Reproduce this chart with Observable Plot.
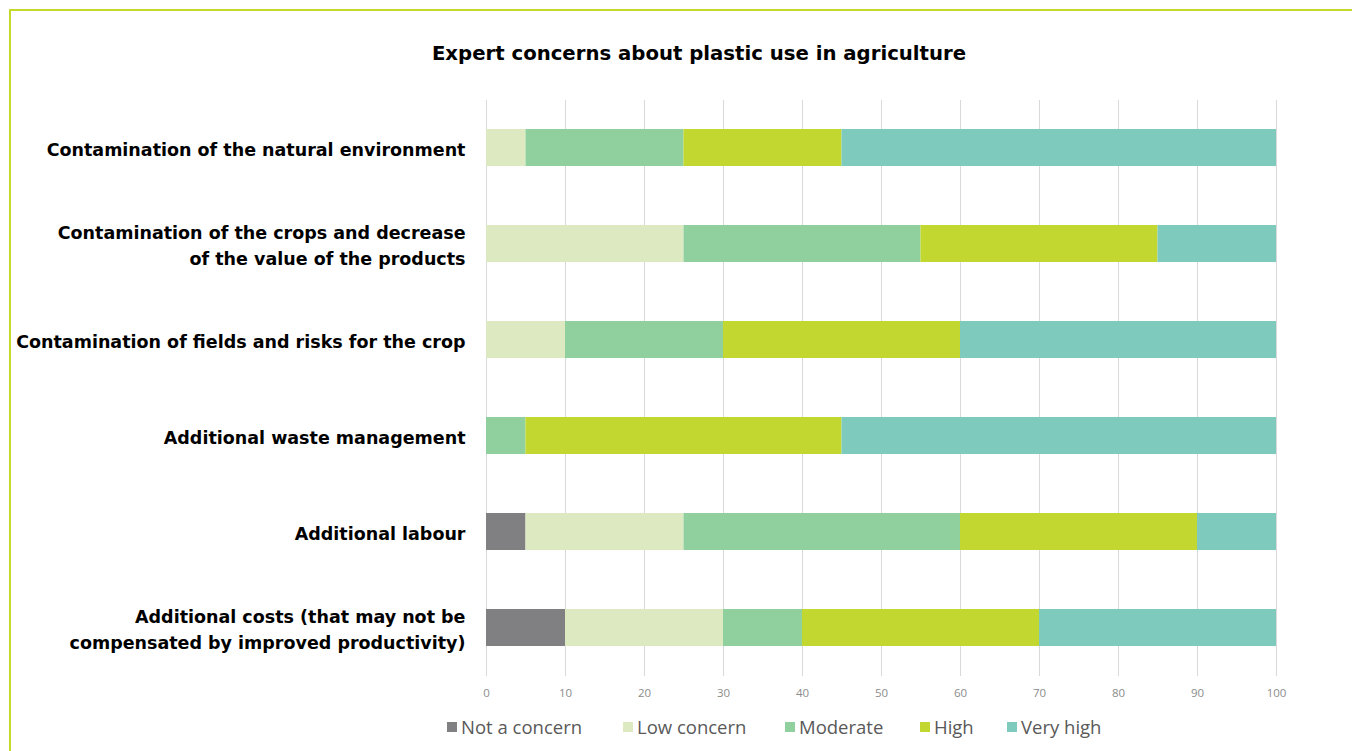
<!DOCTYPE html>
<html>
<head>
<meta charset="utf-8">
<script src="https://cdn.jsdelivr.net/npm/d3@7"></script>
<script src="https://cdn.jsdelivr.net/npm/@observablehq/plot@0.6"></script>
<style>
  html, body { margin: 0; padding: 0; background: #fff; }
  #frame { position: relative; width: 1356px; height: 751px; overflow: hidden; }
  #border { position: absolute; left: 9px; top: 9px; width: 1343px; height: 760px;
            border-top: 2px solid #c5d92d; border-left: 2px solid #c5d92d; box-sizing: border-box; }
  #title { position: absolute; left: 0; top: 42px; width: 1356px; padding-left: 42px; box-sizing: border-box;
           text-align: center; font-family: "DejaVu Sans", sans-serif; font-weight: bold; font-size: 19.7px; color: #000; }
  #chart { position: absolute; left: 0; top: 80px; }
  #legend { position: absolute; top: 714px; left: 0; width: 1356px; font-family: "Open Sans", sans-serif;
            font-size: 18.5px; color: #595959; }
  .item { position: absolute; display: flex; align-items: center; white-space: nowrap; }
  .sw { width: 10px; height: 10px; margin-right: 4px; }
</style>
</head>
<body>
<div id="frame">
  <div id="border"></div>
  <div id="title"></div>
  <div id="chart"></div>
  <div id="legend"></div>
</div>
<script>
const titleText = "Expert concerns about plastic use in agriculture";
const categories = [
  "Contamination of the natural environment",
  "Contamination of the crops and decrease\nof the value of the products",
  "Contamination of fields and risks for the crop",
  "Additional waste management",
  "Additional labour",
  "Additional costs (that may not be\ncompensated by improved productivity)"
];
const seriesNames = ["Not a concern", "Low concern", "Moderate", "High", "Very high"];
const seriesColors = ["#808083", "#dde9c0", "#90d09f", "#c2d72f", "#7ecbbd"];
const notAConcern = [0, 0, 0, 0, 5, 10];
const lowConcern  = [5, 25, 10, 0, 20, 20];
const moderate    = [20, 30, 20, 5, 35, 10];
const high        = [20, 30, 30, 40, 30, 30];
const veryHigh    = [55, 15, 40, 55, 10, 30];
const xTicks = [0, 10, 20, 30, 40, 50, 60, 70, 80, 90, 100];
const legendX = [447, 623, 785, 920, 1007];

document.getElementById("title").textContent = titleText;

const seriesValues = [notAConcern, lowConcern, moderate, high, veryHigh];
const data = [];
seriesNames.forEach((s, si) => {
  categories.forEach((c, ci) => {
    data.push({category: c, series: s, value: seriesValues[si][ci]});
  });
});

const chart = Plot.plot({
  width: 1356,
  height: 630,
  marginLeft: 486,
  marginRight: 80,
  marginTop: 20,
  marginBottom: 34,
  style: {background: "transparent", overflow: "visible"},
  x: {domain: [0, 100], ticks: xTicks, label: null},
  y: {domain: categories, paddingInner: 0.61, paddingOuter: 0.305, align: 0.5, label: null},
  color: {domain: seriesNames, range: seriesColors},
  marks: [
    Plot.gridX(xTicks, {stroke: "#d9d9d9", strokeOpacity: 1, strokeWidth: 1}),
    Plot.barX(data, {x: "value", y: "category", fill: "series"}),
    Plot.axisX(xTicks, {tickSize: 0, tickPadding: 12, fontSize: 11.5, fill: "#8c8c8c", label: null,
      fontFamily: "Open Sans, sans-serif", tickFormat: d => String(d)}),
    Plot.axisY({tickSize: 0, tickPadding: 21, fontSize: 17.5, fontWeight: "bold", fill: "#000",
      fontFamily: "DejaVu Sans, sans-serif", lineHeight: 1.45, label: null})
  ]
});
document.getElementById("chart").appendChild(chart);

const legend = document.getElementById("legend");
seriesNames.forEach((s, i) => {
  const it = document.createElement("div");
  it.className = "item";
  it.style.left = legendX[i] + "px";
  const sw = document.createElement("div");
  sw.className = "sw";
  sw.style.background = seriesColors[i];
  const t = document.createElement("span");
  t.textContent = s;
  it.appendChild(sw);
  it.appendChild(t);
  legend.appendChild(it);
});
</script>
</body>
</html>
